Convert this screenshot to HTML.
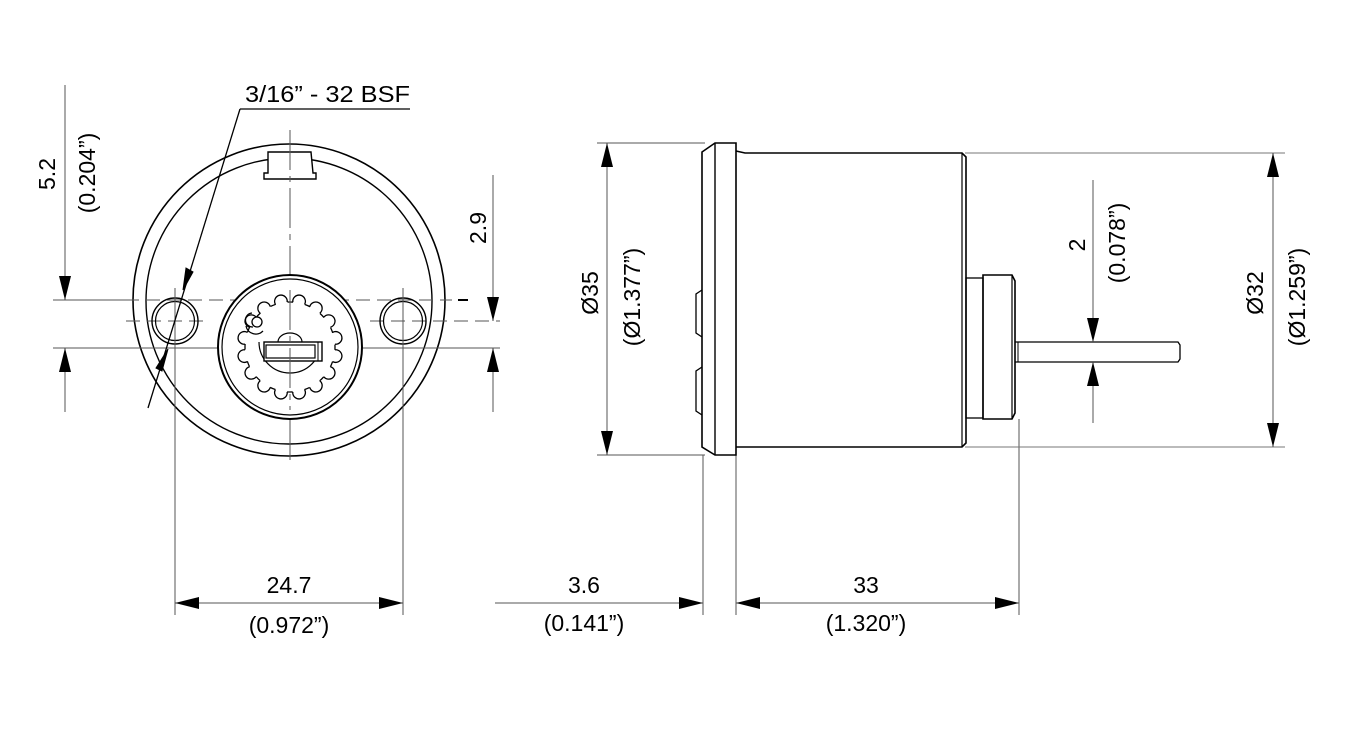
<!DOCTYPE html>
<html><head><meta charset="utf-8"><style>
html,body{margin:0;padding:0;background:#fff;}
svg{display:block;}
text{font-family:"Liberation Sans",Arial,sans-serif;font-size:23px;fill:#000;}
</style></head><body>
<svg width="1359" height="730" viewBox="0 0 1359 730" xmlns="http://www.w3.org/2000/svg">
<defs>
<marker id="a" viewBox="0 0 24 12" refX="24" refY="6" markerWidth="24" markerHeight="12" markerUnits="userSpaceOnUse" orient="auto"><path d="M0,0 L24,6 L0,12 Z" fill="#000"/></marker>
<path id="bump" d="M-6,-44.6 A6.3,6.3 0 1 1 6,-44.6" fill="none" stroke="#000" stroke-width="1.3"/>
</defs>
<g stroke="#000" fill="none" stroke-width="1">
<!-- LEFT VIEW -->
<circle cx="289" cy="300" r="156" stroke-width="1.6"/>
<circle cx="289" cy="301" r="143" stroke-width="1.4"/>
<path d="M268,152 L311,152 L313,173 L316,173 L316,179 L264,179 L264,173 L268,173 Z" fill="#fff" stroke-width="1.4"/>
<line x1="290" y1="130" x2="290" y2="462" stroke="#555" stroke-dasharray="40,6,6,6"/>
<line x1="53" y1="300" x2="125" y2="300" stroke="#555"/>
<line x1="125" y1="300" x2="452" y2="300" stroke="#555" stroke-dasharray="14,7"/>
<line x1="458" y1="300" x2="468" y2="300" stroke-width="2"/>
<line x1="126" y1="321" x2="210" y2="321" stroke="#555" stroke-dasharray="14,7"/>
<line x1="370" y1="321" x2="500" y2="321" stroke="#555" stroke-dasharray="14,7"/>
<line x1="53" y1="348" x2="500" y2="348" stroke="#555"/>
<circle cx="175" cy="321" r="23" stroke-width="1.4"/>
<circle cx="175" cy="321" r="19.5" stroke-width="1.2"/>
<circle cx="403" cy="321" r="23" stroke-width="1.4"/>
<circle cx="403" cy="321" r="19.5" stroke-width="1.2"/>
<line x1="175" y1="288" x2="175" y2="615" stroke="#555"/>
<line x1="403" y1="288" x2="403" y2="615" stroke="#555"/>
<!-- hub -->
<circle cx="290" cy="347" r="72" fill="#fff" stroke-width="2"/>
<circle cx="290" cy="347" r="68" stroke-width="1.2"/>
<g transform="translate(290,347)">
<circle r="45" stroke-width="1.3" stroke-dasharray="5.67 12" stroke-dashoffset="2.83"/>
<use href="#bump" transform="rotate(101.25)"/><use href="#bump" transform="rotate(123.75)"/>
<use href="#bump" transform="rotate(146.25)"/><use href="#bump" transform="rotate(168.75)"/>
<use href="#bump" transform="rotate(191.25)"/><use href="#bump" transform="rotate(213.75)"/>
<use href="#bump" transform="rotate(236.25)"/><use href="#bump" transform="rotate(258.75)"/>
<use href="#bump" transform="rotate(281.25)"/><use href="#bump" transform="rotate(303.75)"/>
<use href="#bump" transform="rotate(326.25)"/><use href="#bump" transform="rotate(348.75)"/>
<use href="#bump" transform="rotate(11.25)"/><use href="#bump" transform="rotate(33.75)"/>
<use href="#bump" transform="rotate(56.25)"/><use href="#bump" transform="rotate(78.75)"/>
</g>
<path d="M259,342 A31,31 0 0 0 321,342" stroke-width="1.2"/>
<path d="M278,342 A12,9 0 0 1 302,342" stroke-width="1.2"/>
<rect x="264" y="342" width="58" height="19" fill="#fff" stroke-width="1.4"/>
<rect x="266" y="345" width="49" height="13" stroke-width="1.2"/>
<line x1="318" y1="342" x2="318" y2="361"/>
<circle cx="257" cy="322" r="5" stroke-width="1.3"/>
<path d="M252,313 A7,7 0 0 0 253,327 M246,326 A10,10 0 0 0 263,331" stroke-width="1.3"/>
<line x1="290" y1="290" x2="290" y2="410" stroke="#555" stroke-dasharray="40,6,6,6"/>
<!-- leader -->
<line x1="240" y1="109" x2="410" y2="109" stroke-width="1.3"/>
<line x1="240" y1="109" x2="148" y2="408" stroke-width="1.3"/>
<path d="M183,290 L186,268 L193,272 Z" fill="#000"/>
<path d="M168,349 L162,371 L156,368 Z" fill="#000"/>
<!-- left dims -->
<line x1="65" y1="85" x2="65" y2="300" stroke="#555" marker-end="url(#a)"/>
<line x1="65" y1="412" x2="65" y2="348" stroke="#555" marker-end="url(#a)"/>
<line x1="493" y1="175" x2="493" y2="321" stroke="#555" marker-end="url(#a)"/>
<line x1="493" y1="412" x2="493" y2="348" stroke="#555" marker-end="url(#a)"/>
<!-- bottom dims -->
<line x1="289" y1="603" x2="175" y2="603" stroke="#555" marker-end="url(#a)"/>
<line x1="289" y1="603" x2="403" y2="603" stroke="#555" marker-end="url(#a)"/>
<line x1="495" y1="603" x2="703" y2="603" stroke="#555" marker-end="url(#a)"/>
<line x1="878" y1="603" x2="736" y2="603" stroke="#555" marker-end="url(#a)"/>
<line x1="878" y1="603" x2="1019" y2="603" stroke="#555" marker-end="url(#a)"/>
<line x1="703" y1="455" x2="703" y2="615" stroke="#555"/>
<line x1="736" y1="455" x2="736" y2="615" stroke="#555"/>
<line x1="1019" y1="419" x2="1019" y2="615" stroke="#555"/>
<!-- RIGHT VIEW -->
<line x1="597" y1="143" x2="705" y2="143" stroke="#555"/>
<line x1="597" y1="455" x2="705" y2="455" stroke="#555"/>
<line x1="965" y1="153" x2="1285" y2="153" stroke="#777"/>
<line x1="965" y1="447" x2="1285" y2="447" stroke="#777"/>
<path d="M715,143 L736,143 L736,455 L715,455 L702,447 L702,152 Z" stroke-width="1.6"/>
<line x1="715" y1="143" x2="715" y2="455" stroke-width="1.4"/>
<path d="M702,290 L696,294 L696,333 L702,337 M702,367 L696,371 L696,411 L702,415" stroke-width="1.3"/>
<path d="M736,151 L745,153 L962,153 L966,157 L966,443 L962,447 L736,447" stroke-width="1.6"/>
<line x1="962" y1="153" x2="962" y2="447" stroke-width="1.2"/>
<rect x="966" y="278" width="17" height="140" stroke-width="1.3"/>
<path d="M983,275 L1012,275 L1015,281 L1015,413 L1012,419 L983,419 Z" stroke-width="1.6"/>
<line x1="1012" y1="275" x2="1012" y2="419" stroke-width="1.2"/>
<path d="M1015,342 L1178,342 L1180,345 L1180,359 L1178,362 L1015,362" stroke-width="1.3"/>
<line x1="1018" y1="342" x2="1018" y2="362"/>
<!-- right dims -->
<line x1="607" y1="300" x2="607" y2="143" stroke="#555" marker-end="url(#a)"/>
<line x1="607" y1="300" x2="607" y2="455" stroke="#555" marker-end="url(#a)"/>
<line x1="1273" y1="300" x2="1273" y2="153" stroke="#555" marker-end="url(#a)"/>
<line x1="1273" y1="300" x2="1273" y2="447" stroke="#555" marker-end="url(#a)"/>
<line x1="1093" y1="180" x2="1093" y2="342" stroke="#555" marker-end="url(#a)"/>
<line x1="1093" y1="423" x2="1093" y2="362" stroke="#555" marker-end="url(#a)"/>
</g>
<!-- text -->
<text x="245" y="102" font-size="24" textLength="165" lengthAdjust="spacingAndGlyphs">3/16” - 32 BSF</text>
<text transform="translate(55,174) rotate(-90)" text-anchor="middle">5.2</text>
<text transform="translate(95,173) rotate(-90)" text-anchor="middle">(0.204”)</text>
<text transform="translate(486,228) rotate(-90)" text-anchor="middle">2.9</text>
<text x="289" y="593" text-anchor="middle" font-size="24">24.7</text>
<text x="289" y="633" text-anchor="middle" font-size="24">(0.972”)</text>
<text x="584" y="593" text-anchor="middle" font-size="24">3.6</text>
<text x="584" y="631" text-anchor="middle" font-size="24">(0.141”)</text>
<text x="866" y="593" text-anchor="middle" font-size="24">33</text>
<text x="866" y="631" text-anchor="middle" font-size="24">(1.320”)</text>
<text transform="translate(598,293) rotate(-90)" text-anchor="middle">Ø35</text>
<text transform="translate(640,297) rotate(-90)" text-anchor="middle">(Ø1.377”)</text>
<text transform="translate(1263,293) rotate(-90)" text-anchor="middle">Ø32</text>
<text transform="translate(1305,297) rotate(-90)" text-anchor="middle">(Ø1.259”)</text>
<text transform="translate(1085,245) rotate(-90)" text-anchor="middle">2</text>
<text transform="translate(1125,243) rotate(-90)" text-anchor="middle">(0.078”)</text>
</svg>
</body></html>
